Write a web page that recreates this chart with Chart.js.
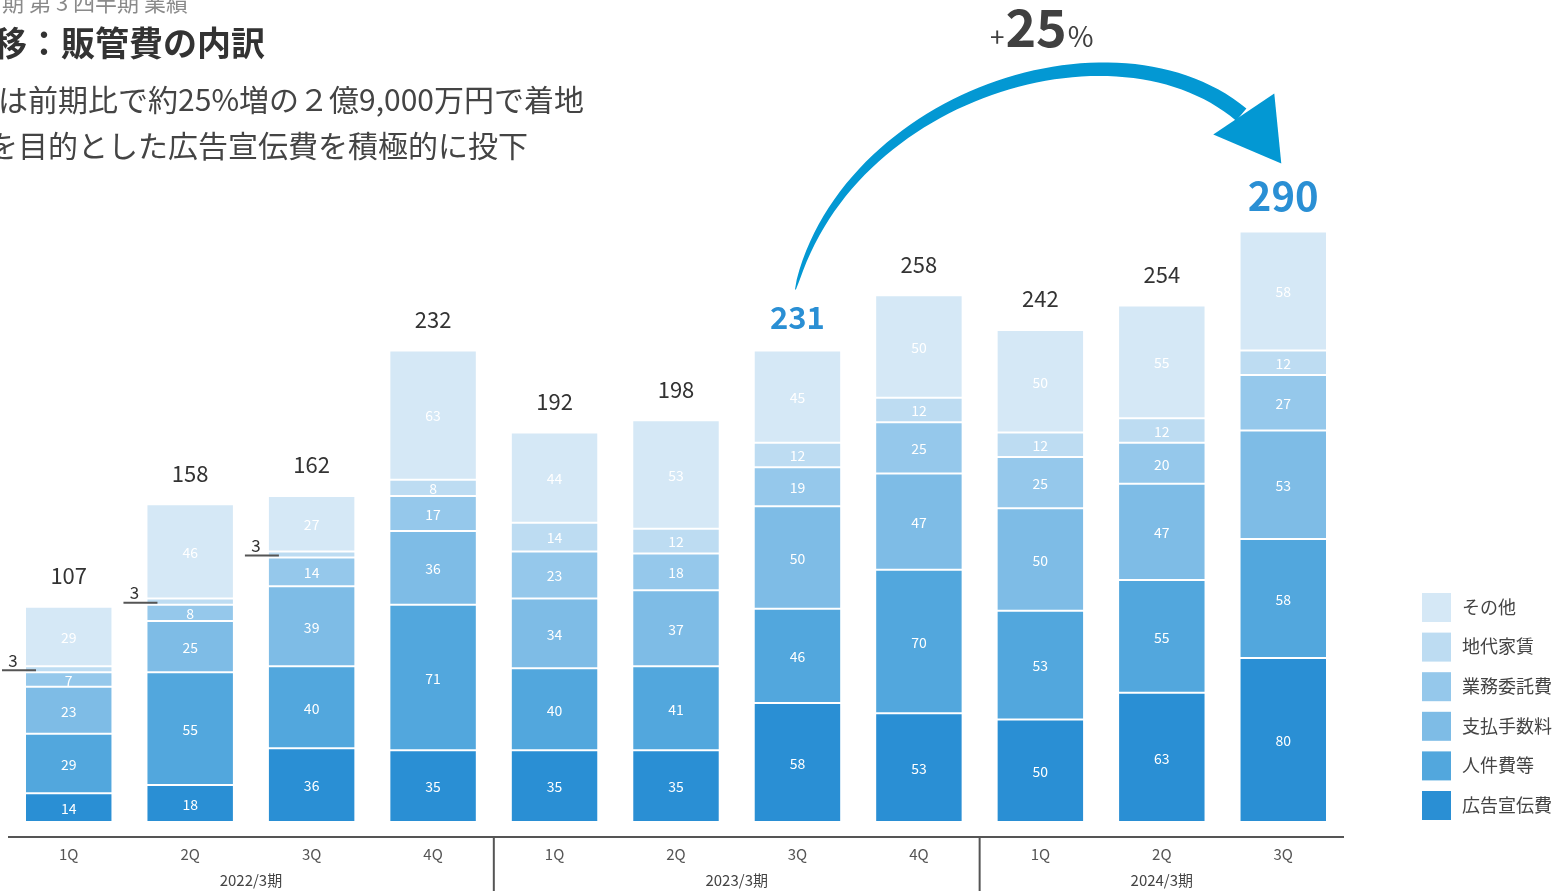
<!DOCTYPE html>
<html>
<head>
<meta charset="utf-8">
<script src="https://cdn.jsdelivr.net/npm/chart.js@4/dist/chart.umd.min.js"></script>
<style>
    body { margin: 0; background: #fff; overflow: hidden; }
    #wrap { position: relative; width: 1556px; height: 891px; overflow: hidden; font-family: "Noto Sans CJK JP", "Noto Sans", sans-serif; }
    .t { position: absolute; white-space: nowrap; text-align: right; line-height: 1; }
    canvas { position: absolute; left: 0; top: 0; }
</style>
</head>
<body>
<div id="wrap">
    <canvas id="myChart" width="1556" height="891"></canvas>
    <div class="t" style="right:1368px; top:-10px; font-size:22px; color:#8a8a8a;">2024年3月期 第 3 四半期 業績</div>
    <div class="t" style="right:1291px; top:25px; font-size:34px; font-weight:bold; color:#333;">業績推移：販管費の内訳</div>
    <div class="t" style="right:972px; top:83px; font-size:30px; color:#444;">販管費は前期比で約25%増の２億9,000万円で着地</div>
    <div class="t" style="right:1028px; top:129px; font-size:30px; color:#444;">売上拡大を目的とした広告宣伝費を積極的に投下</div>
</div>
<script>
const quarters = ['1Q', '2Q', '3Q', '4Q', '1Q', '2Q', '3Q', '4Q', '1Q', '2Q', '3Q'];
const periods = ['2022/3期', '2023/3期', '2024/3期'];
const periodSizes = [4, 4, 3];

const seriesNames = ['広告宣伝費', '人件費等', '支払手数料', '業務委託費', '地代家賃', 'その他'];
const advertising = [14, 18, 36, 35, 35, 35, 58, 53, 50, 63, 80];
const personnel = [29, 55, 40, 71, 40, 41, 46, 70, 53, 55, 58];
const commissions = [23, 25, 39, 36, 34, 37, 50, 47, 50, 47, 53];
const outsourcing = [7, 8, 14, 17, 23, 18, 19, 25, 25, 20, 27];
const rent = [3, 3, 3, 8, 14, 12, 12, 12, 12, 12, 12];
const other = [29, 46, 27, 63, 44, 53, 45, 50, 50, 55, 58];
const totals = [107, 158, 162, 232, 192, 198, 231, 258, 242, 254, 290];

const fromIndex = 6;   // 231
const toIndex = 10;    // 290
const growthText = ['+', '25', '%'];

const colors = ['#2a8fd4', '#52a7dd', '#7ebce6', '#95c8eb', '#bddcf2', '#d5e8f6'];
const FONT = '"Noto Sans CJK JP", "Noto Sans", sans-serif';

document.addEventListener("DOMContentLoaded", function () {
    const seriesData = [advertising, personnel, commissions, outsourcing, rent, other];

    const datasets = seriesData.map((d, i) => ({
        label: seriesNames[i],
        data: d,
        backgroundColor: colors[i],
        borderColor: '#ffffff',
        borderWidth: 1,
        borderSkipped: false,
        barPercentage: 0.72,
        categoryPercentage: 1.0
    }));

    const decorations = {
        id: 'decorations',
        afterDatasetsDraw(chart) {
            const ctx = chart.ctx;
            const xScale = chart.scales.x;
            const area = chart.chartArea;
            const metas = chart.data.datasets.map((d, i) => chart.getDatasetMeta(i));
            ctx.save();

            // segment labels
            metas.forEach((meta, di) => {
                meta.data.forEach((bar, i) => {
                    const v = chart.data.datasets[di].data[i];
                    const cy = (bar.y + bar.base) / 2;
                    const left = bar.x - bar.width / 2;
                    if (v <= 3) {
                        ctx.strokeStyle = '#555';
                        ctx.lineWidth = 2;
                        ctx.beginPath();
                        ctx.moveTo(left - 23, cy + 1);
                        ctx.lineTo(left + 11, cy + 1);
                        ctx.stroke();
                        ctx.fillStyle = '#333';
                        ctx.font = '17px ' + FONT;
                        ctx.textAlign = 'center';
                        ctx.textBaseline = 'middle';
                        ctx.fillText(String(v), left - 12, cy - 9);
                    } else {
                        ctx.fillStyle = '#ffffff';
                        ctx.font = '14px ' + FONT;
                        ctx.textAlign = 'center';
                        ctx.textBaseline = 'middle';
                        ctx.fillText(String(v), bar.x, cy + 1);
                    }
                });
            });

            // totals
            const topMeta = metas[metas.length - 1];
            topMeta.data.forEach((bar, i) => {
                ctx.textAlign = 'center';
                ctx.textBaseline = 'middle';
                if (i === toIndex) {
                    ctx.fillStyle = '#2a8fd4';
                    ctx.font = 'bold 40px ' + FONT;
                    ctx.fillText(String(totals[i]), bar.x, bar.y - 36);
                } else if (i === fromIndex) {
                    ctx.fillStyle = '#2a8fd4';
                    ctx.font = 'bold 31px ' + FONT;
                    ctx.fillText(String(totals[i]), bar.x, bar.y - 33);
                } else {
                    ctx.fillStyle = '#333';
                    ctx.font = '22px ' + FONT;
                    ctx.fillText(String(totals[i]), bar.x, bar.y - 31);
                }
            });

            // curved arrow from 231 to 290
            const a = topMeta.data[fromIndex];
            const b = topMeta.data[toIndex];
            const p0 = { x: a.x - 2, y: a.y - 61 };
            const tip = { x: b.x - 2, y: b.y - 68 };
            const p3 = { x: tip.x - 40, y: tip.y - 49 };
            const p1 = { x: p0.x + 50, y: p0.y - 195 };
            const p2 = { x: p0.x + 320, y: p0.y - 280 };
            const pts = [];
            const N = 60;
            for (let k = 0; k <= N; k++) {
                const t = k / N, u = 1 - t;
                const x = u*u*u*p0.x + 3*u*u*t*p1.x + 3*u*t*t*p2.x + t*t*t*p3.x;
                const y = u*u*u*p0.y + 3*u*u*t*p1.y + 3*u*t*t*p2.y + t*t*t*p3.y;
                const dx = 3*u*u*(p1.x-p0.x) + 6*u*t*(p2.x-p1.x) + 3*t*t*(p3.x-p2.x);
                const dy = 3*u*u*(p1.y-p0.y) + 6*u*t*(p2.y-p1.y) + 3*t*t*(p3.y-p2.y);
                const len = Math.hypot(dx, dy);
                const w = 0.5 + 7.5 * Math.pow(t, 0.5);
                pts.push({ x, y, nx: -dy / len, ny: dx / len, w });
            }
            ctx.fillStyle = '#0398d3';
            ctx.beginPath();
            pts.forEach((p, k) => {
                const x = p.x + p.nx * p.w, y = p.y + p.ny * p.w;
                if (k === 0) ctx.moveTo(x, y); else ctx.lineTo(x, y);
            });
            for (let k = pts.length - 1; k >= 0; k--) {
                const p = pts[k];
                ctx.lineTo(p.x - p.nx * p.w, p.y - p.ny * p.w);
            }
            ctx.closePath();
            ctx.fill();
            ctx.beginPath();
            ctx.moveTo(tip.x, tip.y);
            ctx.lineTo(tip.x - 68, tip.y - 29);
            ctx.lineTo(tip.x - 7, tip.y - 70);
            ctx.closePath();
            ctx.fill();

            // +25%
            ctx.fillStyle = '#404040';
            ctx.textAlign = 'left';
            ctx.textBaseline = 'alphabetic';
            let gx = 990;
            const gy = 47;
            const gFonts = ['26px ' + FONT, 'bold 52px ' + FONT, '28px ' + FONT];
            growthText.forEach((s, k) => {
                ctx.font = gFonts[k];
                ctx.fillText(s, gx, gy);
                gx += ctx.measureText(s).width + 1;
            });

            // axis line + period labels
            const axisY = area.bottom + 15;
            ctx.strokeStyle = '#555';
            ctx.lineWidth = 2;
            ctx.beginPath();
            ctx.moveTo(area.left, axisY);
            ctx.lineTo(area.right, axisY);
            ctx.stroke();

            let start = 0;
            ctx.fillStyle = '#444';
            ctx.font = '15px ' + FONT;
            ctx.textAlign = 'center';
            ctx.textBaseline = 'middle';
            periodSizes.forEach((n, g) => {
                const end = start + n - 1;
                const cx = (xScale.getPixelForValue(start) + xScale.getPixelForValue(end)) / 2;
                ctx.fillText(periods[g], cx, 880);
                if (g < periodSizes.length - 1) {
                    const sx = (xScale.getPixelForValue(end) + xScale.getPixelForValue(end + 1)) / 2;
                    ctx.beginPath();
                    ctx.moveTo(sx, axisY);
                    ctx.lineTo(sx, 891);
                    ctx.stroke();
                }
                start += n;
            });

            // legend
            const lx = 1422;
            let ly = 593;
            for (let i = chart.data.datasets.length - 1; i >= 0; i--) {
                ctx.fillStyle = colors[i];
                ctx.fillRect(lx, ly, 29, 29);
                ctx.fillStyle = '#444';
                ctx.font = '18px ' + FONT;
                ctx.textAlign = 'left';
                ctx.textBaseline = 'middle';
                ctx.fillText(seriesNames[i], lx + 40, ly + 14);
                ly += 39.6;
            }
            ctx.restore();
        }
    };

    const ctx = document.getElementById('myChart').getContext('2d');
    new Chart(ctx, {
        type: 'bar',
        data: { labels: quarters, datasets: datasets },
        options: {
            responsive: false,
            animation: false,
            layout: { padding: { left: 8, right: 212, top: 207, bottom: 5 } },
            plugins: {
                legend: { display: false },
                tooltip: { enabled: false }
            },
            scales: {
                x: {
                    stacked: true,
                    grid: { display: false, drawTicks: false },
                    border: { display: false },
                    ticks: { color: '#555', font: { size: 15, family: FONT }, padding: 23, maxRotation: 0 }
                },
                y: {
                    stacked: true,
                    display: false,
                    min: 0,
                    max: 300
                }
            }
        },
        plugins: [decorations]
    });
});
</script>
</body>
</html>
